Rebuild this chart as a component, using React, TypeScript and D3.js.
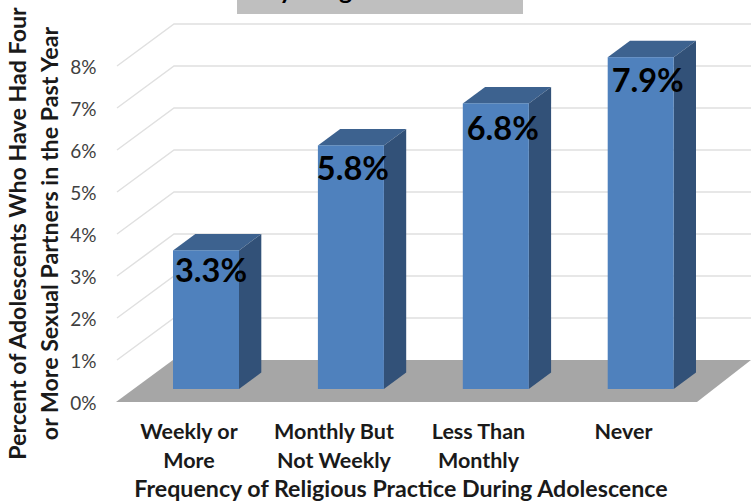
import React from "react";
import * as d3 from "d3";

const categories = ["Weekly or|More", "Monthly But|Not Weekly", "Less Than|Monthly", "Never"];
const values = [3.3, 5.8, 6.8, 7.9];
const valueLabels = ["3.3%", "5.8%", "6.8%", "7.9%"];
const yTicks = [0, 1, 2, 3, 4, 5, 6, 7, 8];
const yTitleLines = ["Percent of Adolescents Who Have Had Four", "or More Sexual Partners in the Past Year"];
const xTitle = "Frequency of Religious Practice During Adolescence";
const titleFragment = "by Religious Practice";

const W = 751, H = 501;
const FONT = "Lato, Carlito, 'Noto Sans', sans-serif";
const y = d3.scaleLinear().domain([0, 8]).range([402, 66]);
const x = d3.scalePoint<string>().domain(categories).range([173, 607.7]);
const barW = 66;
const floorD = { dx: 57, dy: -42 };
const sideD = { dx: 22.3, dy: -16.5 };
const barBase = 13;
const labelDx = [38, 35, 40, 40];
const labelDy = [32, 35, 37, 35];
const catCx = [189, 334, 478.5, 623.5];
const line = d3.line<[number, number]>();
const poly = (pts: [number, number][]) => line(pts)! + "Z";

export default function App() {
  const base = y(0) - barBase;
  return (
    <svg width={W} height={H} style={{ position: "absolute", left: 0, top: 0, background: "#fff" }} fontFamily={FONT}>
      <defs>
        <clipPath id="titleClip"><rect x={237} y={0} width={286} height={14} /></clipPath>
        <filter id="soft"><feGaussianBlur stdDeviation="0.35" /></filter>
      </defs>
      <rect x={237} y={0} width={286} height={14} fill="#bfbfbf" />
      <text x={380} y={-1} textAnchor="middle" fontSize={25} fontWeight={700} fill="#000" clipPath="url(#titleClip)">{titleFragment}</text>

      {yTicks.map(t => {
        const fy = y(t), by = fy + floorD.dy;
        return t === 0 ? null : (
          <path key={t} d={line([[117, fy], [117 + floorD.dx, by], [W, by]])!} fill="none" stroke="#e0e0e0" strokeWidth={1.5} />
        );
      })}
      <path d={poly([[116, y(0)], [116 + floorD.dx, y(0) + floorD.dy], [W, y(0) + floorD.dy], [697, y(0)]])} fill="#a6a6a6" />

      {yTicks.map(t => (
        <text key={t} x={96.5} y={y(t) + 8} textAnchor="end" fontSize={19} fill="#404040">{t}%</text>
      ))}

      <g filter="url(#soft)">
        {categories.map((c, i) => {
          const x0 = x(c)!, x1 = x0 + barW;
          const top = base - (y(0) - y(values[i]));
          return (
            <g key={c}>
              <path d={poly([[x0, top], [x0 + sideD.dx, top + sideD.dy], [x1 + sideD.dx, top + sideD.dy], [x1, top]])} fill="#3d628f" />
              <path d={poly([[x1, top], [x1 + sideD.dx, top + sideD.dy], [x1 + sideD.dx, base + sideD.dy], [x1, base]])} fill="#325178" />
              <rect x={x0} y={top} width={barW} height={base - top} fill="#4f81bd" />
            </g>
          );
        })}
      </g>
      {categories.map((c, i) => {
        const top = base - (y(0) - y(values[i]));
        return <text key={c} x={x(c)! + labelDx[i]} y={top + labelDy[i]} textAnchor="middle" fontSize={32.5} fontWeight={700} fill="#000">{valueLabels[i]}</text>;
      })}

      {categories.map((c, i) =>
        c.split("|").map((s, j) => (
          <text key={s} x={catCx[i]} y={438.5 + j * 29} textAnchor="middle" fontSize={21.5} fontWeight={700} fill="#1a1a1a">{s}</text>
        ))
      )}
      <text x={401} y={497} textAnchor="middle" fontSize={23.2} fontWeight={700} fill="#1a1a1a">{xTitle}</text>
      {yTitleLines.map((s, j) => (
        <text key={s} transform={`translate(${26 + j * 32},${233.5}) rotate(-90)`} textAnchor="middle" fontSize={23.2} fontWeight={700} fill="#1a1a1a">{s}</text>
      ))}
    </svg>
  );
}
